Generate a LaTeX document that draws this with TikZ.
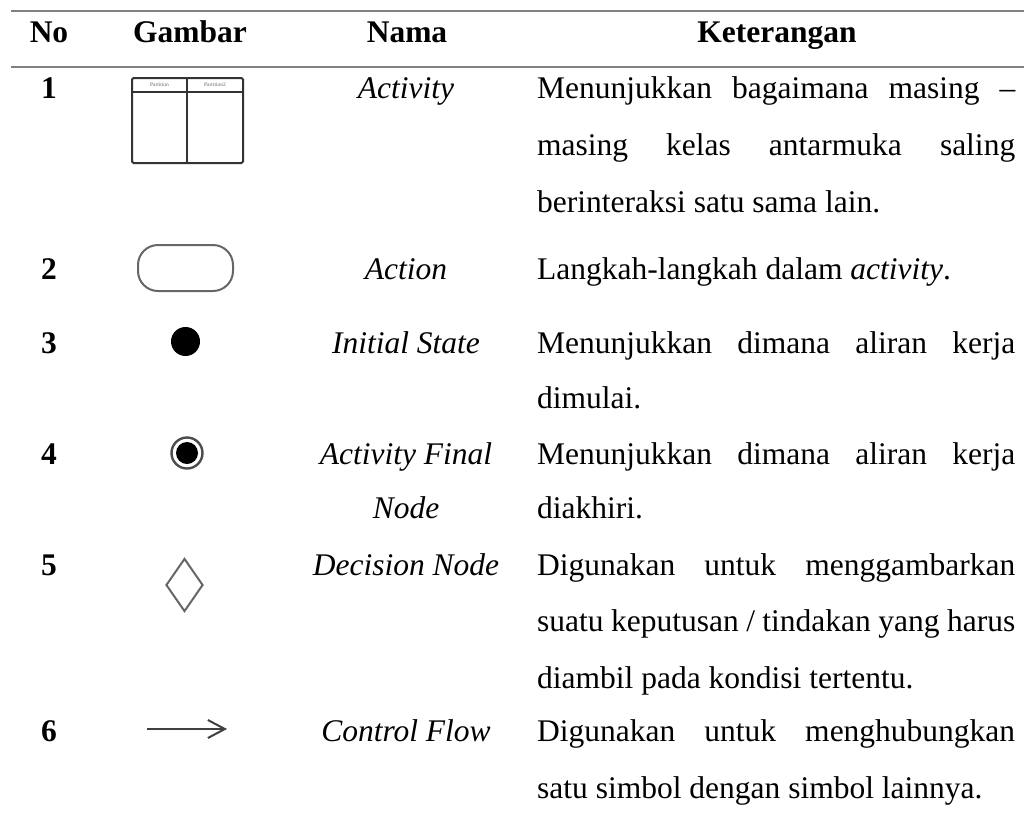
\documentclass[tikz,border=0pt]{standalone}
\usepackage{fontspec}
\setmainfont{Liberation Serif}
\usetikzlibrary{arrows.meta,shapes.geometric}

\begin{document}
\begin{tikzpicture}[x=1pt,y=-1pt,
  body/.style={inner sep=0pt, font=\fontsize{31.5}{38}\selectfont},
  lefttxt/.style={body, anchor=base west},
  midtxt/.style={body, anchor=base},
  headtxt/.style={body, anchor=base, font=\fontsize{31.5}{38}\selectfont\bfseries},
  numtxt/.style={headtxt},
  nametxt/.style={body, anchor=base, font=\fontsize{31.5}{38}\selectfont\itshape},
  rule/.style={draw=black!50, line width=2.6pt},
  symline/.style={draw=black!60, line width=2pt},
  tinylabel/.style={inner sep=0pt, font=\fontsize{5.5}{6}\selectfont, text=black!60}
]
\useasboundingbox (0,0) rectangle (1024,814);

% horizontal rules of the table
\draw[rule] (11,11) -- (1024,11);
\draw[rule] (11,67) -- (1024,67);

% header
\node[headtxt] (h-no)   at (49,42)  {No};
\node[headtxt] (h-gbr)  at (190,42) {Gambar};
\node[headtxt] (h-nama) at (407,42) {Nama};
\node[headtxt] (h-ket)  at (777,42) {Keterangan};

% column: row numbers
\node[numtxt] (n1) at (49,98)  {1};
\node[numtxt] (n2) at (49,279) {2};
\node[numtxt] (n3) at (49,353) {3};
\node[numtxt] (n4) at (49,464) {4};
\node[numtxt] (n5) at (49,575) {5};
\node[numtxt] (n6) at (49,741) {6};

% column: names
\node[nametxt] (m1)  at (406,98)  {Activity};
\node[nametxt] (m2)  at (406,279) {Action};
\node[nametxt] (m3)  at (406,353) {Initial State};
\node[nametxt] (m4a) at (406,464) {Activity Final};
\node[nametxt] (m4b) at (406,518) {Node};
\node[nametxt] (m5)  at (406,575) {Decision Node};
\node[nametxt] (m6)  at (406,741) {Control Flow};

% column: descriptions (justified lines, last line ragged)
\def\colw{478pt}
\node[lefttxt] (k1a) at (537,98)  {\makebox[\colw][s]{Menunjukkan bagaimana masing –}};
\node[lefttxt] (k1b) at (537,155) {\makebox[\colw][s]{masing kelas antarmuka saling}};
\node[lefttxt] (k1c) at (537,212) {berinteraksi satu sama lain.};
\node[lefttxt] (k2)  at (537,279) {Langkah-langkah dalam \textit{activity}.};
\node[lefttxt] (k3a) at (537,353) {\makebox[\colw][s]{Menunjukkan dimana aliran kerja}};
\node[lefttxt] (k3b) at (537,408) {dimulai.};
\node[lefttxt] (k4a) at (537,464) {\makebox[\colw][s]{Menunjukkan dimana aliran kerja}};
\node[lefttxt] (k4b) at (537,518) {diakhiri.};
\node[lefttxt] (k5a) at (537,575) {\makebox[\colw][s]{Digunakan untuk menggambarkan}};
\node[lefttxt] (k5b) at (537,631) {\makebox[\colw][s]{suatu keputusan / tindakan yang harus}};
\node[lefttxt] (k5c) at (537,688) {diambil pada kondisi tertentu.};
\node[lefttxt] (k6a) at (537,741) {\makebox[\colw][s]{Digunakan untuk menghubungkan}};
\node[lefttxt] (k6b) at (537,798) {satu simbol dengan simbol lainnya.};

% symbol 1: activity partitions
\draw[draw=black!80, line width=2pt, rounded corners=1.5pt] (132,78) rectangle (243,163);
\draw[draw=black!80, line width=2pt] (132,92) -- (243,92);
\draw[draw=black!80, line width=2.4pt] (187,78) -- (187,163);
\node[tinylabel] (p1) at (159.5,85) {Partition};
\node[tinylabel] (p2) at (215,85) {Partition2};

% symbol 2: action
\node[symline, draw, rounded corners=20pt, minimum width=95pt, minimum height=46pt, inner sep=0pt] (act) at (185.5,268) {};

% symbol 3: initial state
\node[circle, fill=black, minimum size=29pt, inner sep=0pt] (init) at (185.5,341.5) {};

% symbol 4: activity final node
\node[circle, fill=black, minimum size=22pt, inner sep=0pt] (fin) at (187,453) {};
\draw[draw=black!70, line width=2.4pt] (fin.center) circle[radius=15.5pt];

% symbol 5: decision node
\node[symline, draw, diamond, minimum width=37pt, minimum height=53pt, inner sep=0pt, aspect=0.7] (dec) at (184.5,585) {};

% symbol 6: control flow
\coordinate (cf-from) at (147,729);
\coordinate (cf-to) at (227,729);
\draw[draw=black!75, line width=2pt, -{Straight Barb[length=17pt,width=18pt,line width=2pt]}] (cf-from) -- (cf-to);
\end{tikzpicture}
\end{document}
